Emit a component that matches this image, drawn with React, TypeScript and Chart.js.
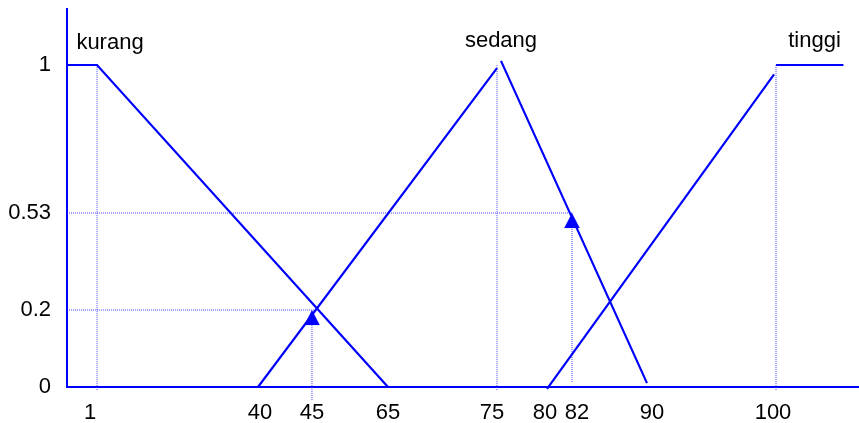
import React, { useEffect, useRef } from 'react';
import { Chart, LinearScale, registerables } from 'chart.js';

// ---- data ----
const xTicks = [1, 40, 45, 65, 75, 80, 82, 90, 100];
const yTicks = [0, 0.2, 0.53, 1];

const kurangX = [0, 1, 65];
const kurangY = [1, 1, 0];

const sedangX = [40, 75, 75.2, 75.4, 90];
const sedangY: (number | null)[] = [0, 0.99, null, 1.013, 0.01];

const tinggiX = [80, 99.85, 99.9, 100, 105.2];
const tinggiY: (number | null)[] = [-0.005, 0.97, null, 1, 1];

// dotted guide lines (x pairs, y pairs)
const guide1X = [1, 1];
const guide1Y = [-0.008, 1];
const guide02hX = [0, 46.3];
const guide02hY = [0.2, 0.2];
const guide45X = [45, 45];
const guide45Y = [-0.034, 0.2];
const guide053hX = [0, 82];
const guide053hY = [0.53, 0.53];
const guide82X = [82, 82];
const guide82Y = [0.013, 0.53];
const guide75X = [75, 75];
const guide75Y = [-0.008, 1];
const guide100X = [100, 100];
const guide100Y = [-0.008, 1];

const markerX = [45, 82];
const markerY = [0.2, 0.53];

const seriesNames = ['kurang', 'sedang', 'tinggi'];
const nameX = [4.15, 75.4, 102.97];
const nameY = [1.05, 1.057, 1.057];

// ---- non-linear axis definition (value -> fraction of axis length) ----
const X_MAP = {
  values: [0, 1, 40, 45, 65, 75, 80, 82, 90, 100, 106.4],
  fracs: [0, 0.0379, 0.2412, 0.3093, 0.4053, 0.5429, 0.6061, 0.6376, 0.7323, 0.8952, 1],
};
const Y_MAP = {
  values: [0, 0.2, 0.53, 1, 1.178],
  fracs: [0, 0.2037, 0.4603, 0.8519, 1],
};
// small horizontal nudges (px) of the x tick labels, as in the original figure
const X_LABEL_SHIFT = [-7, 2, 0, 0, -5, -2, 5, 5, -3];

function interp(v: number, xs: number[], ys: number[]) {
  const n = xs.length;
  let i = 0;
  if (v <= xs[0]) i = 0;
  else if (v >= xs[n - 1]) i = n - 2;
  else {
    while (i < n - 2 && v > xs[i + 1]) i++;
  }
  const t = (v - xs[i]) / (xs[i + 1] - xs[i]);
  return ys[i] + t * (ys[i + 1] - ys[i]);
}

class PiecewiseScale extends LinearScale {
  static id = 'piecewise';
  static defaults = {};
  getPixelForValue(value: any) {
    if (value === null || value === undefined || isNaN(value)) return NaN;
    const m = (this as any).axis === 'x' ? X_MAP : Y_MAP;
    return this.getPixelForDecimal(interp(+value, m.values, m.fracs));
  }
  getValueForPixel(pixel: number) {
    const m = (this as any).axis === 'x' ? X_MAP : Y_MAP;
    return interp(this.getDecimalForPixel(pixel), m.fracs, m.values);
  }
  getPixelForTick(index: number) {
    const ticks = (this as any).ticks;
    if (index < 0 || index > ticks.length - 1) return null as any;
    const p = this.getPixelForValue(ticks[index].value);
    return (this as any).axis === 'x' ? p + (X_LABEL_SHIFT[index] || 0) : p;
  }
}

Chart.register(...registerables, PiecewiseScale as any);

const zip = (xs: number[], ys: (number | null)[]) => xs.map((x, i) => ({ x, y: ys[i] }));

const FONT = '"Liberation Sans", Arial, sans-serif';
const BLUE = '#0000ff';
const GUIDE = 'rgba(40,40,255,0.85)';

const noPad = (s: any) => {
  s.paddingTop = 0;
  s.paddingBottom = 0;
  s.paddingLeft = 0;
  s.paddingRight = 0;
};

export default function App() {
  const ref = useRef<HTMLCanvasElement>(null);
  useEffect(() => {
    if (!ref.current) return;
    const tri = document.createElement('canvas');
    tri.width = 16;
    tri.height = 32;
    const tctx = tri.getContext('2d')!;
    tctx.fillStyle = BLUE;
    tctx.beginPath();
    tctx.moveTo(8, 16);
    tctx.lineTo(15.8, 31);
    tctx.lineTo(0.2, 31);
    tctx.closePath();
    tctx.fill();

    const guide = (xs: number[], ys: number[]) => ({
      data: zip(xs, ys),
      borderColor: GUIDE,
      borderWidth: 1,
      borderDash: [1, 1],
      pointRadius: 0,
      clip: false as any,
      order: 5,
    });
    const main = (xs: number[], ys: (number | null)[]) => ({
      data: zip(xs, ys),
      borderColor: BLUE,
      borderWidth: 2.2,
      pointRadius: 0,
      spanGaps: false,
      clip: false as any,
      order: 1,
    });

    const namesPlugin = {
      id: 'names',
      afterDraw(chart: any) {
        const { ctx, scales } = chart;
        ctx.save();
        ctx.font = `22px ${FONT}`;
        ctx.fillStyle = '#000';
        ctx.textAlign = 'center';
        ctx.textBaseline = 'alphabetic';
        seriesNames.forEach((n, i) => {
          ctx.fillText(n, scales.x.getPixelForValue(nameX[i]), scales.y.getPixelForValue(nameY[i]));
        });
        ctx.restore();
      },
    };

    const chart = new Chart(ref.current, {
      type: 'line',
      data: {
        datasets: [
          guide(guide1X, guide1Y),
          guide(guide02hX, guide02hY),
          guide(guide45X, guide45Y),
          guide(guide053hX, guide053hY),
          guide(guide82X, guide82Y),
          guide(guide75X, guide75Y),
          guide(guide100X, guide100Y),
          main(kurangX, kurangY),
          main(sedangX, sedangY),
          main(tinggiX, tinggiY),
          {
            data: zip(markerX, markerY),
            showLine: false,
            pointStyle: tri as any,
            pointRadius: 8,
            clip: false as any,
            order: 0,
          } as any,
        ] as any,
      },
      options: {
        animation: false,
        responsive: false,
        events: [],
        layout: { autoPadding: false, padding: { top: 9, left: 0, right: 0, bottom: 0 } },
        plugins: { legend: { display: false }, tooltip: { enabled: false } },
        scales: {
          x: {
            type: 'piecewise' as any,
            min: 0,
            max: 106.4,
            afterFit: (s: any) => { s.height = 36; noPad(s); },
            afterBuildTicks: (s: any) => { s.ticks = xTicks.map((v) => ({ value: v })); },
            grid: { display: false, drawTicks: false },
            border: { display: true, color: BLUE, width: 2 },
            ticks: {
              autoSkip: false,
              maxRotation: 0,
              padding: 13,
              color: '#000',
              font: { family: FONT, size: 22 },
              callback: (v: any) => String(v),
            },
          } as any,
          y: {
            type: 'piecewise' as any,
            min: 0,
            max: 1.178,
            afterFit: (s: any) => { s.width = 67; noPad(s); },
            afterBuildTicks: (s: any) => { s.ticks = yTicks.map((v) => ({ value: v })); },
            grid: { display: false, drawTicks: false },
            border: { display: true, color: BLUE, width: 2 },
            ticks: {
              padding: 16,
              color: '#000',
              font: { family: FONT, size: 22 },
              callback: (v: any) => String(v),
            },
          } as any,
        },
      },
      plugins: [namesPlugin],
    });
    return () => chart.destroy();
  }, []);

  return (
    <div style={{ position: 'fixed', left: 0, top: 0, width: 859, height: 423, background: '#fff' }}>
      <canvas ref={ref} width={859} height={423} style={{ display: 'block' }} />
    </div>
  );
}
